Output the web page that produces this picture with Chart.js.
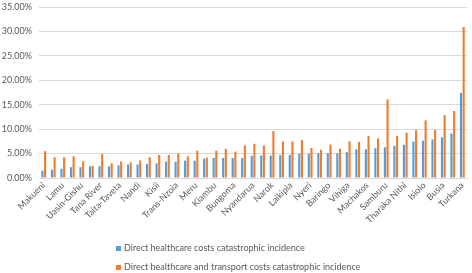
<!DOCTYPE html>
<html>
<head>
<meta charset="utf-8">
<script src="https://cdn.jsdelivr.net/npm/chart.js@4/dist/chart.umd.min.js"></script>
<style>
  html, body { margin: 0; padding: 0; background: #fff; }
  #wrap { position: relative; width: 472px; height: 273px; }
  #legend .item { position: absolute; left: 116px; height: 19px; line-height: 19px; font-family: Lato, sans-serif; font-size: 9px; color: #595959; white-space: nowrap; }
  #legend .sw { display: inline-block; width: 5px; height: 5px; margin-right: 3px; vertical-align: 0px; }
</style>
</head>
<body>
<div id="wrap">
  <canvas id="c" width="472" height="273"></canvas>
  <div id="legend"></div>
</div>
<script>
const categories = ["Makueni","Kwale","Lamu","Kilifi","Uasin-Gishu","Garissa","Tana River","Wajir","Taita-Taveta","Mandera","Nandi","Marsabit","Kisii","Embu","Trans-Nzoia","Kitui","Meru","Kirinyaga","Kiambu","Murang'a","Bungoma","West Pokot","Nyandarua","Elgeyo-Marakwet","Narok","Nakuru","Laikipia","Kajiado","Nyeri","Kericho","Baringo","Bomet","Vihiga","Kakamega","Machakos","Siaya","Samburu","Kisumu","Tharaka Nithi","Homa Bay","Isiolo","Migori","Busia","Nyamira","Turkana"];
const seriesNames = ["Direct healthcare costs catastrophic incidence","Direct healthcare and transport costs catastrophic incidence"];
const directHealthcare = [1.5,1.7,1.9,2.2,2.2,2.4,2.4,2.4,2.6,2.75,2.75,2.9,3.0,3.35,3.35,3.55,3.55,3.95,4.1,4.1,4.1,4.1,4.55,4.6,4.6,4.7,4.7,5.0,5.0,5.05,5.05,5.05,5.3,5.9,5.9,6.1,6.3,6.6,6.8,7.45,7.65,7.9,8.3,9.1,17.4];
const healthcareTransport = [5.5,4.25,4.25,4.45,3.4,2.5,4.9,3.0,3.4,3.2,3.6,4.25,4.7,4.7,5.05,4.4,5.6,4.2,5.6,5.95,5.4,6.65,7.0,6.65,9.6,7.5,7.5,7.75,6.15,5.8,6.85,6.0,7.5,7.4,8.6,8.1,16.1,8.6,9.3,9.8,11.8,9.8,12.85,13.7,30.9];
const yTicks = [0,5,10,15,20,25,30,35];
const colors = ["#5B9BD5","#ED7D31"];

const FONT = "Lato, sans-serif";
const chart = new Chart(document.getElementById('c'), {
  type: 'bar',
  data: {
    labels: categories,
    datasets: [
      { label: seriesNames[0], data: directHealthcare, backgroundColor: colors[0], barPercentage: 0.8, categoryPercentage: 0.56 },
      { label: seriesNames[1], data: healthcareTransport, backgroundColor: colors[1], barPercentage: 0.8, categoryPercentage: 0.56 }
    ]
  },
  options: {
    responsive: false,
    animation: false,
    devicePixelRatio: 1,
    layout: { padding: { top: 7, right: 3, left: 0, bottom: 0 } },
    plugins: { legend: { display: false }, tooltip: { enabled: false } },
    scales: {
      x: {
        grid: { display: false, drawTicks: false },
        border: { display: true, color: '#D9D9D9' },
        ticks: {
          autoSkip: false, maxRotation: 45, minRotation: 45,
          font: { family: FONT, size: 9 }, color: '#595959', padding: 2,
          callback: function(v, i) { return i % 2 === 0 ? categories[i] : ''; }
        },
        afterFit: function(s) { s.height = 95; s.paddingTop = 0; s.paddingBottom = 0; }
      },
      y: {
        min: 0, max: 35,
        afterBuildTicks: function(s) { s.ticks = yTicks.map(v => ({ value: v })); },
        grid: { color: '#D9D9D9', drawTicks: false },
        border: { display: false },
        ticks: {
          font: { family: FONT, size: 9 }, color: '#595959', padding: 7,
          callback: function(v) { return Number(v).toFixed(2) + '%'; }
        },
        afterFit: function(s) { s.width = 39; s.paddingTop = 0; s.paddingBottom = 0; }
      }
    }
  }
});

const lg = document.getElementById('legend');
const legendTops = [238, 257];
chart.data.datasets.forEach((ds, i) => {
  const d = document.createElement('div');
  d.className = 'item';
  d.style.top = legendTops[i] + 'px';
  const sw = document.createElement('span');
  sw.className = 'sw';
  sw.style.background = ds.backgroundColor;
  d.appendChild(sw);
  d.appendChild(document.createTextNode(ds.label));
  lg.appendChild(d);
});
</script>
</body>
</html>
